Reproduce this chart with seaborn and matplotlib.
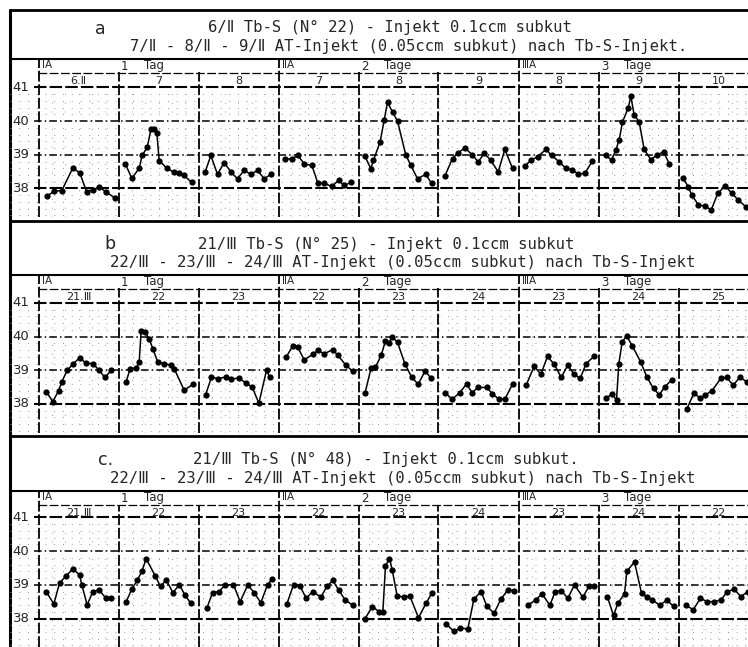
import numpy as np
import pandas as pd
import seaborn as sns
import matplotlib.pyplot as plt

# ---- data ----
TEMP_TICKS = [41, 40, 39, 38]
GROUP_LABELS = ['ⅠA', 'ⅡA', 'ⅢA']
TAG_NUMBERS = ['1', '2', '3']
TAG_WORDS = ['Tag', 'Tage', 'Tage']

DAY_LABELS_A = ['6.Ⅱ', '7', '8', '7', '8', '9', '8', '9', '10']
DAY_LABELS_B = ['21.Ⅲ', '22', '23', '22', '23', '24', '23', '24', '25']
DAY_LABELS_C = ['21.Ⅲ', '22', '23', '22', '23', '24', '23', '24', '22']

# hour of reading inside each day column, and temperature
A_HOURS = [
    [2.5, 4.7, 7.0, 10.3, 12.4, 14.4, 16.4, 18.2, 20.4, 22.9],
    [2.0, 4.0, 6.2, 7.1, 8.6, 9.8, 10.6, 11.5, 12.2, 14.5, 16.7, 18.1, 19.6, 22.0],
    [2.0, 3.7, 5.7, 7.7, 9.7, 11.7, 13.7, 15.7, 17.7, 19.7, 21.7],
    [1.8, 4.0, 5.8, 7.8, 10.0, 11.8, 13.5, 16.0, 18.0, 19.8, 21.8],
    [1.9, 3.7, 4.5, 6.5, 7.7, 8.7, 10.2, 11.7, 14.2, 15.7, 17.7, 20.2, 21.9],
    [1.9, 4.2, 5.7, 7.9, 10.2, 11.9, 13.7, 15.7, 17.9, 19.9, 22.2],
    [1.9, 3.7, 5.7, 8.2, 9.9, 12.2, 14.2, 16.2, 17.9, 19.9, 22.2],
    [2.2, 3.9, 5.2, 6.2, 7.2, 8.9, 9.7, 10.7, 12.2, 13.7, 15.7, 17.5, 19.5, 21.2],
    [1.5, 3.0, 4.0, 6.0, 8.0, 9.8, 11.8, 14.0, 16.0, 18.0, 20.2],
]
A_TEMPS = [
    [37.77, 37.92, 37.94, 38.61, 38.46, 37.91, 37.96, 38.04, 37.89, 37.72],
    [38.74, 38.30, 38.60, 38.98, 39.22, 39.78, 39.78, 39.66, 38.83, 38.60, 38.48, 38.45, 38.39, 38.18],
    [38.49, 38.98, 38.42, 38.77, 38.49, 38.29, 38.54, 38.42, 38.54, 38.29, 38.42],
    [38.88, 38.88, 38.98, 38.72, 38.69, 38.16, 38.16, 38.06, 38.24, 38.09, 38.19],
    [38.96, 38.59, 38.84, 39.39, 40.03, 40.56, 40.27, 40.00, 38.99, 38.69, 38.29, 38.42, 38.15],
    [38.37, 38.89, 39.04, 39.21, 38.99, 38.79, 39.04, 38.84, 38.49, 39.16, 38.60],
    [38.66, 38.84, 38.94, 39.16, 38.99, 38.79, 38.60, 38.55, 38.43, 38.45, 38.82],
    [38.99, 38.84, 39.14, 39.44, 39.98, 40.38, 40.74, 40.18, 39.98, 39.16, 38.86, 38.99, 39.09, 38.74],
    [38.30, 38.03, 37.80, 37.51, 37.48, 37.36, 37.86, 38.07, 37.86, 37.65, 37.46],
]

B_HOURS = [
    [2.3, 4.3, 6.0, 7.0, 8.6, 10.3, 12.3, 14.3, 16.3, 18.2, 19.9, 21.9],
    [2.3, 3.5, 5.3, 6.2, 6.8, 8.0, 9.2, 10.3, 11.8, 13.7, 15.8, 16.7, 19.7, 22.3],
    [2.1, 3.9, 5.9, 8.1, 9.9, 12.1, 14.4, 16.1, 18.1, 20.4, 21.4],
    [2.3, 4.3, 5.8, 7.7, 10.2, 11.9, 13.7, 16.2, 17.9, 20.2, 22.2],
    [2.0, 3.8, 5.1, 6.8, 8.1, 9.1, 10.1, 11.7, 13.9, 15.9, 17.9, 20.0, 21.8],
    [2.0, 4.1, 6.4, 8.4, 10.1, 11.8, 14.5, 16.2, 18.2, 19.9, 22.2],
    [2.3, 4.7, 6.7, 8.7, 10.7, 12.8, 14.8, 16.5, 18.5, 20.3, 22.6],
    [2.3, 4.1, 5.4, 6.1, 7.1, 8.4, 10.1, 12.7, 14.5, 16.5, 18.2, 19.9, 21.9],
    [2.5, 4.6, 6.6, 8.1, 10.1, 12.7, 14.4, 16.4, 18.4, 20.5],
]
B_TEMPS = [
    [38.37, 38.07, 38.39, 38.66, 39.00, 39.18, 39.37, 39.21, 39.20, 39.00, 38.79, 39.00],
    [38.66, 39.05, 39.07, 39.24, 40.18, 40.13, 39.93, 39.64, 39.24, 39.20, 39.15, 39.05, 38.41, 38.58],
    [38.26, 38.80, 38.75, 38.80, 38.74, 38.77, 38.61, 38.51, 38.02, 39.00, 38.80],
    [39.39, 39.73, 39.68, 39.31, 39.47, 39.59, 39.49, 39.61, 39.44, 39.15, 38.98],
    [38.34, 39.08, 39.10, 39.44, 39.88, 39.80, 40.00, 39.83, 39.20, 38.80, 38.59, 38.98, 38.76],
    [38.34, 38.14, 38.34, 38.59, 38.34, 38.49, 38.49, 38.30, 38.14, 38.14, 38.59],
    [38.56, 39.12, 38.88, 39.41, 39.18, 38.79, 39.15, 38.90, 38.76, 39.20, 39.41],
    [38.17, 38.30, 38.11, 39.20, 39.83, 40.03, 39.73, 39.24, 38.80, 38.46, 38.27, 38.51, 38.71],
    [37.85, 38.32, 38.17, 38.27, 38.40, 38.76, 38.79, 38.56, 38.79, 38.66],
]

C_HOURS = [
    [2.3, 4.6, 6.3, 8.3, 10.3, 12.3, 13.0, 14.6, 16.3, 18.2, 20.2, 21.9],
    [2.3, 4.0, 5.6, 7.0, 8.3, 11.0, 12.6, 14.3, 16.3, 18.3, 19.9, 21.7],
    [2.5, 4.2, 6.2, 8.0, 10.5, 12.5, 14.8, 16.8, 18.7, 20.7, 22.1],
    [2.5, 4.5, 6.5, 8.3, 10.3, 12.7, 14.5, 16.3, 18.0, 20.0, 22.2],
    [2.0, 4.1, 6.3, 7.3, 8.1, 9.3, 10.1, 11.6, 13.7, 15.4, 18.0, 20.3, 22.1],
    [2.3, 4.6, 6.6, 8.8, 10.6, 12.8, 14.5, 16.7, 18.7, 20.8, 22.6],
    [2.8, 5.1, 7.1, 9.4, 11.0, 12.8, 14.8, 16.8, 19.3, 21.1, 22.6],
    [2.7, 4.5, 5.8, 7.8, 8.5, 10.8, 12.9, 14.4, 16.2, 18.4, 20.5, 22.5],
    [2.3, 4.4, 6.6, 8.6, 10.6, 12.7, 14.7, 16.7, 18.7, 20.8],
]
C_TEMPS = [
    [38.80, 38.43, 39.05, 39.27, 39.47, 39.30, 39.00, 38.40, 38.80, 38.85, 38.60, 38.60],
    [38.50, 38.87, 39.13, 39.40, 39.77, 39.27, 38.95, 39.15, 38.77, 39.00, 38.70, 38.45],
    [38.30, 38.77, 38.80, 39.00, 39.00, 38.50, 39.00, 38.75, 38.47, 39.00, 39.17],
    [38.43, 39.00, 38.95, 38.60, 38.80, 38.63, 38.95, 39.13, 38.85, 38.55, 38.40],
    [38.00, 38.35, 38.20, 38.20, 39.56, 39.78, 39.45, 38.67, 38.63, 38.67, 38.02, 38.46, 38.77],
    [37.84, 37.62, 37.72, 37.69, 38.57, 38.80, 38.36, 38.16, 38.57, 38.85, 38.83],
    [38.39, 38.55, 38.73, 38.39, 38.80, 38.83, 38.60, 39.00, 38.63, 38.95, 38.97],
    [38.63, 38.09, 38.45, 38.73, 39.40, 39.68, 38.75, 38.65, 38.55, 38.39, 38.55, 38.36],
    [38.39, 38.26, 38.60, 38.50, 38.50, 38.55, 38.80, 38.87, 38.65, 38.80],
]

TITLE_TAGS = ['a', 'b', 'c.']
TITLE_LINE1 = [
    '6/Ⅱ Tb-S (N° 22) - Injekt 0.1ccm subkut',
    '21/Ⅲ Tb-S (N° 25) - Injekt 0.1ccm subkut',
    '21/Ⅲ Tb-S (N° 48) - Injekt 0.1ccm subkut.',
]
TITLE_LINE2 = [
    '7/Ⅱ - 8/Ⅱ - 9/Ⅱ AT-Injekt (0.05ccm subkut) nach Tb-S-Injekt.',
    '22/Ⅲ - 23/Ⅲ - 24/Ⅲ AT-Injekt (0.05ccm subkut) nach Tb-S-Injekt',
    '22/Ⅲ - 23/Ⅲ - 24/Ⅲ AT-Injekt (0.05ccm subkut) nach Tb-S-Injekt',
]

# ---- layout (pixels) ----
W, H = 748, 647
PANELS = [
    dict(top=10, box=59, bottom=217, y38=188.5, tag_xy=(100, 29), l1=(390, 27), l2=(409, 46),
         labels=DAY_LABELS_A, hours=A_HOURS, temps=A_TEMPS),
    dict(top=221, box=275, bottom=433, y38=404.0, tag_xy=(110, 244), l1=(386, 244), l2=(403, 263),
         labels=DAY_LABELS_B, hours=B_HOURS, temps=B_TEMPS),
    dict(top=436, box=491, bottom=647, y38=618.5, tag_xy=(106, 460), l1=(386, 459), l2=(403, 478),
         labels=DAY_LABELS_C, hours=C_HOURS, temps=C_TEMPS),
]
COL0 = 38.5      # pixel of first day boundary
COLW = 80.0      # pixels per day
PX_PER_DEG = 33.7
TITLE_FONT = ['DejaVu Sans Mono', 'DejaVu Sans']

sns.set_theme(style='white')
plt.rcParams['font.family'] = ['DejaVu Sans']

fig = plt.figure(figsize=(W / 100, H / 100), dpi=100)
fig.patch.set_facecolor('white')

frame = fig.add_axes([0, 0, 1, 1])
frame.set_xlim(0, W)
frame.set_ylim(H, 0)
frame.axis('off')

# outer border
frame.plot([10, 10], [10, H], color='black', lw=2.2)

for i, p in enumerate(PANELS):
    # frame lines of the panel
    frame.plot([10, W], [p['top'], p['top']], color='black', lw=2.0)
    frame.plot([10, W], [p['box'], p['box']], color='black', lw=1.5)
    hy = p['box'] + 13.5
    frame.plot([COL0, W], [hy, hy], color='black', lw=0.9, ls=(0, (7, 2)))

    # titles
    frame.text(*p['tag_xy'], TITLE_TAGS[i], fontsize=12.5, ha='center', va='center')
    frame.text(*p['l1'], TITLE_LINE1[i], fontsize=11.2, family=TITLE_FONT, ha='center', va='center')
    frame.text(*p['l2'], TITLE_LINE2[i], fontsize=11.2, family=TITLE_FONT, ha='center', va='center')

    # header: group / day-count labels
    for g in range(3):
        gx = COL0 + 3 * COLW * g
        frame.text(gx + 4, p['box'] + 6, GROUP_LABELS[g], fontsize=7.5, ha='left', va='center')
        frame.text(gx + 86, p['box'] + 7, TAG_NUMBERS[g], fontsize=8.5, ha='center', va='center')
        frame.text(gx + 106, p['box'] + 7, TAG_WORDS[g], fontsize=8.5, ha='left', va='center')

    # data axes
    ax = fig.add_axes([10 / W, 1 - p['bottom'] / H, (W - 10) / W, (p['bottom'] - p['box']) / H])
    ax.patch.set_alpha(0)
    ylo = 38 - (p['bottom'] - p['y38']) / PX_PER_DEG
    yhi = 38 + (p['y38'] - p['box']) / PX_PER_DEG
    xlo = (10 - COL0) / COLW * 24
    xhi = (W - COL0) / COLW * 24
    ax.set_xlim(xlo, xhi)
    ax.set_ylim(ylo, yhi)
    for s in ax.spines.values():
        s.set_visible(False)
    ax.set_xticks([])
    ax.set_yticks([])

    def px_to_temp(py, p=p):
        return 38 + (p['y38'] - py) / PX_PER_DEG

    # sparse dotted fine grid
    for t in np.arange(37.2, 41.0, 0.2):
        if abs(t - round(t)) > 0.05:
            ax.axhline(t, color='0.6', lw=0.7, ls=(0, (1, 8)), zorder=1)
    for hh in range(4, 216, 4):
        if hh % 24:
            ax.vlines(hh, ylo, 41, color='0.6', lw=0.7, ls=(0, (1, 8)), zorder=1)

    # main temperature lines and their labels
    for t in TEMP_TICKS:
        heavy = t in (41, 38)
        ax.hlines(t, (34 - COL0) / COLW * 24, xhi, color='black',
                  lw=1.5 if heavy else 1.1, ls=(0, (6, 1.5)) if heavy else (0, (5, 2, 1, 2)), zorder=2)
        ax.text((21 - COL0) / COLW * 24, t, str(t), fontsize=9.5, ha='center', va='center')

    # day boundaries
    for d in range(9):
        top_px = p['box'] if d % 3 == 0 else hy
        ax.vlines(d * 24, ylo, px_to_temp(top_px), color='black', lw=1.3,
                  ls=(0, (6, 1.5)), zorder=2)
        ax.text(d * 24 + 12, px_to_temp(p['box'] + 22), p['labels'][d],
                fontsize=8, ha='center', va='center')

    # temperature curves, one segment per day
    rows = []
    for d, (hs, ts) in enumerate(zip(p['hours'], p['temps'])):
        for h, t in zip(hs, ts):
            rows.append({'time': d * 24 + h, 'temp': t, 'day': d})
    df = pd.DataFrame(rows)
    sns.lineplot(data=df, x='time', y='temp', units='day', estimator=None, sort=False,
                 color='black', lw=1.1, marker='o', markersize=4.5, markeredgewidth=0,
                 legend=False, ax=ax, zorder=5)
    ax.set_xlabel('')
    ax.set_ylabel('')

fig.savefig('out.png', dpi=100)
